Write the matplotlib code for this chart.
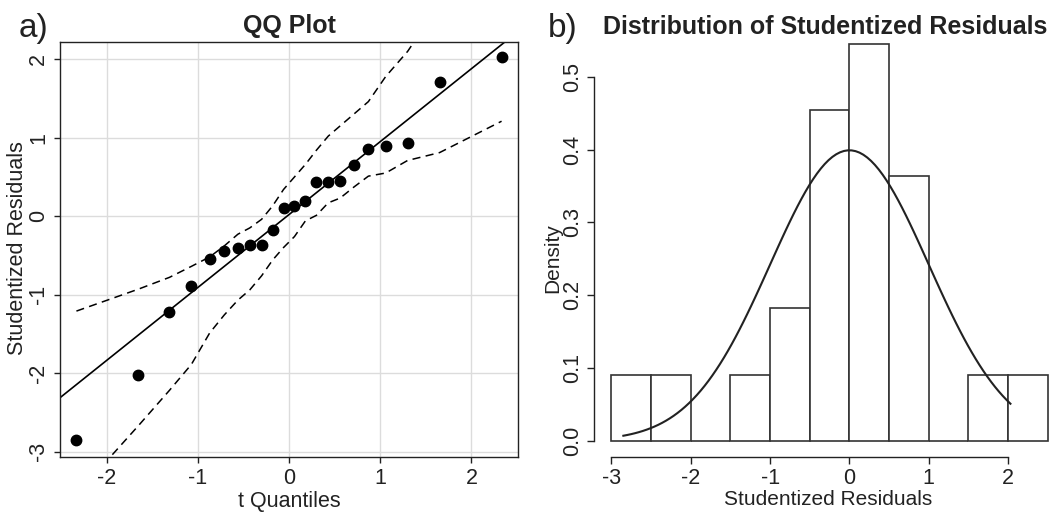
import numpy as np
import matplotlib
matplotlib.use("Agg")
import matplotlib.pyplot as plt

plt.rcParams['font.family'] = ['Liberation Sans', 'DejaVu Sans']
plt.rcParams['axes.unicode_minus'] = False

# theoretical t quantiles and the sorted studentized residuals
t_quant = [-2.33, -1.65, -1.31, -1.07, -0.87, -0.71, -0.56, -0.43, -0.30, -0.18, -0.06,
           0.06, 0.18, 0.30, 0.43, 0.56, 0.71, 0.87, 1.06, 1.30, 1.65, 2.33]
stud_res = [-2.85, -2.03, -1.22, -0.89, -0.55, -0.45, -0.41, -0.37, -0.37, -0.18, 0.10,
            0.13, 0.19, 0.43, 0.43, 0.45, 0.65, 0.86, 0.90, 0.93, 1.71, 2.03]
# confidence envelope at each quantile
env_upper = [-1.21, -0.93, -0.78, -0.64, -0.52, -0.38, -0.23, -0.15, -0.04, 0.13, 0.34,
             0.50, 0.66, 0.84, 1.02, 1.15, 1.30, 1.46, 1.78, 2.10, 2.70, 3.60]
env_lower = [-3.55, -2.67, -2.22, -1.89, -1.49, -1.26, -1.07, -0.94, -0.76, -0.56, -0.40,
             -0.26, -0.06, 0.01, 0.17, 0.23, 0.37, 0.51, 0.55, 0.71, 0.81, 1.21]
line_intercept = 0.02
line_slope = 0.93

hist_bins = [-3, -2.5, -2, -1.5, -1, -0.5, 0, 0.5, 1, 1.5, 2, 2.5]

txt = '#222222'
W, H = 1062, 513
fig = plt.figure(figsize=(W / 100, H / 100), dpi=100)

def box(x0, y0, x1, y1):
    # pixel box (top-left origin) -> figure fractions
    return [x0 / W, 1 - y1 / H, (x1 - x0) / W, (y1 - y0) / H]

# ---------------- a) QQ plot ----------------
ax1 = fig.add_axes(box(60, 42, 518, 457))
ax1.set_xlim(-2.51, 2.51)
ax1.set_ylim(-3.07, 2.22)
ax1.set_xticks([-2, -1, 0, 1, 2])
ax1.set_yticks([-3, -2, -1, 0, 1, 2])
ax1.grid(True, color='#dcdcdc', lw=1.0)
ax1.set_axisbelow(True)

dash = (0, (5.3, 3.5))
xl = np.array(ax1.get_xlim())
ax1.plot(xl, line_intercept + line_slope * xl, color='black', lw=1.2)
ax1.plot(t_quant, env_upper, color='black', lw=1.1, ls=dash)
ax1.plot(t_quant, env_lower, color='black', lw=1.1, ls=dash)
ax1.plot(t_quant, stud_res, 'o', color='black', ms=7.5)

for s in ax1.spines.values():
    s.set_color(txt)
    s.set_linewidth(1.0)
ax1.tick_params(direction='out', length=4, width=1, colors=txt, labelsize=15.5, pad=4)
for lab in ax1.get_yticklabels():
    lab.set_rotation(90)
    lab.set_va('center')
ax1.set_xlabel('t Quantiles', fontsize=15.5, color=txt, labelpad=1)
fig.text(18 / W, 1 - 248 / H, 'Studentized Residuals', fontsize=15.5, color=txt,
         rotation=90, ha='center', va='center')
ax1.set_title('QQ Plot', fontsize=18, fontweight='bold', color=txt, pad=6.5)
fig.text(19 / W, 1 - 37 / H, 'a)', fontsize=24, color=txt, va='baseline')

# ---------------- b) histogram ----------------
ax2 = fig.add_axes(box(594, 27.5, 1062, 456.6))
ax2.set_xlim(-3.22, 2.68)
ax2.set_ylim(-0.0218, 0.5676)
ax2.hist(stud_res, bins=hist_bins, density=True, facecolor='white',
         edgecolor='#333333', lw=1.2)
xs = np.linspace(min(stud_res), max(stud_res), 101)
ax2.plot(xs, np.exp(-xs ** 2 / 2) / np.sqrt(2 * np.pi), color='#222222', lw=1.5)

ax2.spines['top'].set_visible(False)
ax2.spines['right'].set_visible(False)
ax2.spines['left'].set_bounds(0, 0.5)
ax2.spines['bottom'].set_bounds(-3, 2)
for s in ('left', 'bottom'):
    ax2.spines[s].set_color(txt)
    ax2.spines[s].set_linewidth(1.0)
ax2.set_xticks([-3, -2, -1, 0, 1, 2])
ax2.set_yticks([0.0, 0.1, 0.2, 0.3, 0.4, 0.5])
ax2.set_yticklabels(['0.0', '0.1', '0.2', '0.3', '0.4', '0.5'])
ax2.tick_params(direction='out', length=5, width=1, colors=txt, labelsize=15.5, pad=3)
for lab in ax2.get_yticklabels():
    lab.set_rotation(90)
    lab.set_va('center')
ax2.set_xlabel('Studentized Residuals', fontsize=15, color=txt, labelpad=1)
fig.text(553 / W, 1 - 258 / H, 'Density', fontsize=15, color=txt,
         rotation=90, ha='center', va='center')
fig.text(548 / W, 1 - 37 / H, 'b)', fontsize=24, color=txt, va='baseline')
fig.text(603 / W, 1 - 33.5 / H, 'Distribution of Studentized Residuals', fontsize=18,
         fontweight='bold', color=txt, va='baseline')

fig.savefig('out.png', dpi=100)
